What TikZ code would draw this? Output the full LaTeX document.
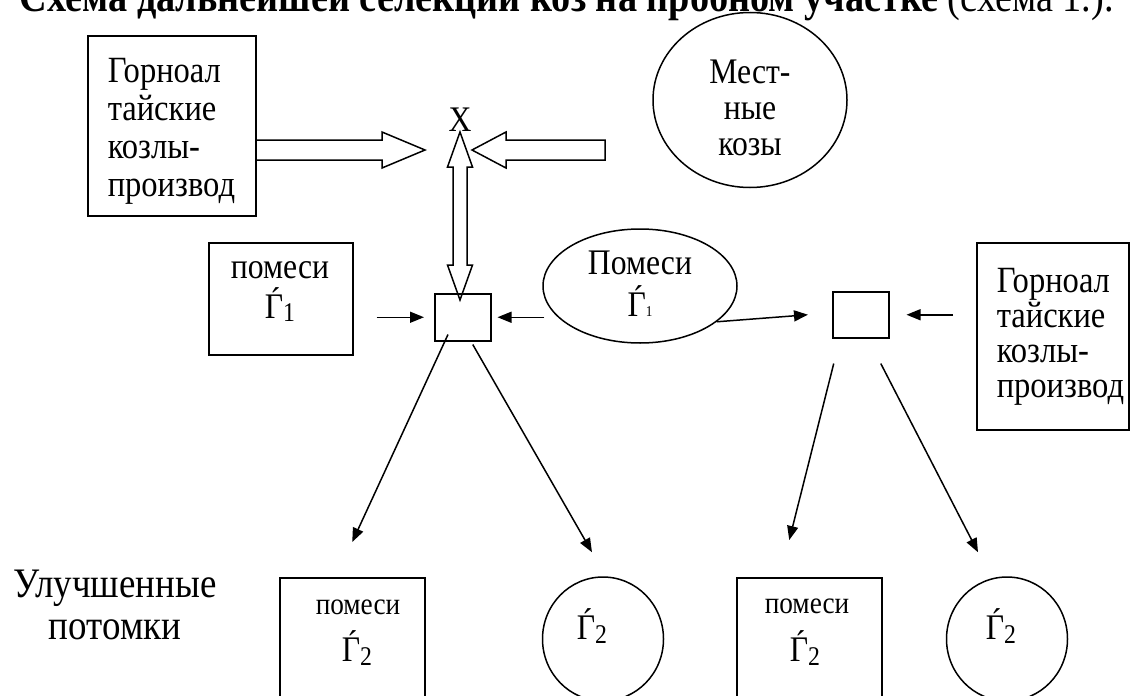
\documentclass[tikz,border=0pt]{standalone}
\usepackage{fontspec}
\setmainfont{Liberation Serif}[FakeStretch=0.88]
\usetikzlibrary{arrows.meta,shapes.geometric,calc}
\begin{document}
\begin{tikzpicture}[x=1pt,y=-1pt,line width=1.5pt,
  boxnode/.style={draw,rectangle,inner sep=0pt,anchor=north west},
  ovalnode/.style={draw,ellipse,inner sep=0pt},
  txl/.style={inner sep=0pt,anchor=base west,font=\fontsize{37}{37}\selectfont},
  txc/.style={inner sep=0pt,anchor=base,font=\fontsize{36}{36}\selectfont},
  txs/.style={inner sep=0pt,anchor=base,font=\fontsize{31}{31}\selectfont},
  txb/.style={inner sep=0pt,anchor=base,font=\fontsize{42}{42}\selectfont},
  arr/.style={-{Triangle[length=14pt,width=11pt]}},
  hollow/.style={line width=1.5pt,line join=miter}]
\useasboundingbox (0,0) rectangle (1133,696);
\clip (0,0) rectangle (1133,696);
% title (cut by the top edge)
\node[inner sep=0pt,anchor=base west,font=\fontsize{43.5}{43.5}\selectfont] (title) at (19,12)
  {\textbf{Схема дальнейшей селекции коз на пробном участке} (схема 1.).};
% shapes
\node[boxnode,minimum width=168,minimum height=180] (boxA) at (87,35) {};
\node[ovalnode,minimum width=194,minimum height=175] (mest) at (750,100) {};
\node[boxnode,minimum width=144,minimum height=112] (boxB) at (208,242) {};
\node[boxnode,minimum width=56,minimum height=47] (s1) at (434,293) {};
\node[ovalnode,minimum width=194,minimum height=114] (eC) at (640,286) {};
\node[boxnode,minimum width=56,minimum height=46] (s2) at (832,291) {};
\node[boxnode,minimum width=152,minimum height=187] (boxD) at (976,242) {};
\node[boxnode,minimum width=145,minimum height=150] (boxE) at (279,577) {};
\node[ovalnode,minimum width=121,minimum height=124] (cF) at (603,639) {};
\node[boxnode,minimum width=145,minimum height=150] (boxG) at (736,577) {};
\node[ovalnode,minimum width=121,minimum height=124] (cH) at (1007,639) {};
% texts
\node[txl] (a1) at (107,82) {Горноал};
\node[txl] (a2) at (107,120) {тайские};
\node[txl] (a3) at (107,158) {козлы-};
\node[txl] (a4) at (107,196) {производ};
\node[txl] (d1) at (996,292) {Горноал};
\node[txl] (d2) at (996,327) {тайские};
\node[txl] (d3) at (996,362) {козлы-};
\node[txl] (d4) at (996,397) {производ};
\node[txc] (m1) at (750,83) {Мест-};
\node[txc] (m2) at (750,119) {ные};
\node[txc] (m3) at (750,155) {козы};
\node[txc] (X) at (460,131) {X};
\node[txc] (b1) at (280,278) {помеси};
\node[txc] (b2) at (280,318) {Ѓ\raisebox{-3pt}{\fontsize{27}{27}\selectfont 1}};
\node[txc] (c1) at (640,274) {Помеси};
\node[txc] (c2) at (640,316) {Ѓ{\fontsize{15}{15}\selectfont 1}};
\node[txb] (u1) at (115,597) {Улучшенные};
\node[txb] (u2) at (115,639) {потомки};
\node[txs] (e1) at (358,614) {помеси};
\node[txc] (e2) at (357,661) {Ѓ\raisebox{-4pt}{\fontsize{27}{27}\selectfont 2}};
\node[txs] (g1) at (807,613) {помеси};
\node[txc] (g2) at (805,661) {Ѓ\raisebox{-4pt}{\fontsize{27}{27}\selectfont 2}};
\node[txc] (f2) at (592,639) {Ѓ\raisebox{-4pt}{\fontsize{27}{27}\selectfont 2}};
\node[txc] (h2) at (1001,639) {Ѓ\raisebox{-4pt}{\fontsize{27}{27}\selectfont 2}};
% hollow block arrows
\coordinate (tipR) at (425,150);
\coordinate (tipL) at (472,150);
\path (boxA.east |- tipR) coordinate (aR0);
\draw[hollow] (aR0) ++(0,-10) -- (382,140) -- (382,132) -- (tipR) -- (382,168) -- (382,160) -- ++(-127,0);
\draw[hollow] (605,140) -- (506,140) -- (506,132) -- (tipL) -- (506,168) -- (506,160) -- (605,160) -- cycle;
\coordinate (tipU) at (460,132);
\coordinate (tipD) at (460,300);
\draw[hollow] (tipU) -- (472.5,167) -- (467,167) -- (467,265) -- (472.5,265) -- (tipD)
  -- (447.5,265) -- (453,265) -- (453,167) -- (447.5,167) -- cycle;
% small arrows
\draw[arr] ([xshift=23pt]boxB.east |- s1) -- ([xshift=-10pt]s1.west);
\draw[arr] ([xshift=2pt]eC.west |- s1) -- ([xshift=6pt]s1.east);
\draw[arr] (eC.-25) -- ([xshift=-24pt]s2.west);
\draw[arr] ([xshift=-23pt]boxD.west |- s2) -- ([xshift=17pt]s2.east);
% down arrows
\draw[arr] ([xshift=14pt,yshift=7pt]s1.south west) -- ([yshift=35pt]boxE.north);
\draw[arr] ([xshift=10pt,yshift=-3pt]s1.south) -- ([xshift=-11pt,yshift=24pt]cF.north);
\draw[arr] ([xshift=-27pt,yshift=-25pt]s2.south) -- ([xshift=-20pt,yshift=37pt]boxG.north);
\draw[arr] ([xshift=20pt,yshift=-25pt]s2.south) -- ([xshift=-29pt,yshift=24pt]cH.north);
\end{tikzpicture}
\end{document}
